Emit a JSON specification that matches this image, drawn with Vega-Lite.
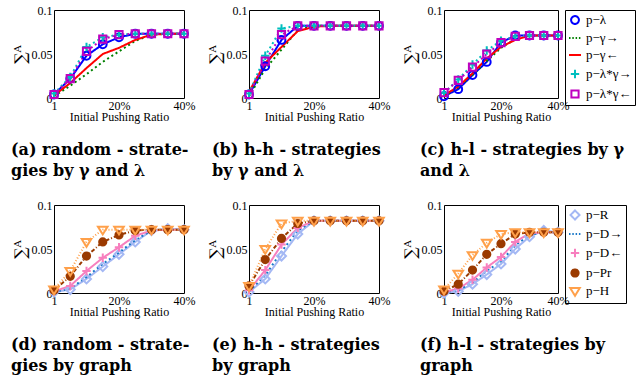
{
"$schema":"https://vega.github.io/schema/vega-lite/v6.json",
"padding":{"left":10,"top":3,"right":2,"bottom":2},
"config":{
 "view":{"stroke":"#000","strokeWidth":1},
 "axis":{"labelFont":"Liberation Serif","labelFontSize":12,"labelColor":"#000","titleFont":"Liberation Serif","titleFontSize":12,"titleFontWeight":"normal","titleColor":"#000","ticks":false,"domain":false,"grid":false,"labelPadding":2,"labelFlush":false},
 "axisX":{"titlePadding":0},
 "axisY":{"titleFontSize":16,"titlePadding":3,"titleFont":"DejaVu Serif"},
 "title":{"font":"DejaVu Serif","fontSize":16,"fontWeight":"bold","color":"#000","lineHeight":21}
},
"datasets":{
"top":[
{"p":"a","s":"p−λ","x":1,"y":0.004},{"p":"a","s":"p−λ","x":2,"y":0.022},{"p":"a","s":"p−λ","x":3,"y":0.048},{"p":"a","s":"p−λ","x":4,"y":0.061},{"p":"a","s":"p−λ","x":5,"y":0.069},{"p":"a","s":"p−λ","x":6,"y":0.073},{"p":"a","s":"p−λ","x":7,"y":0.073},{"p":"a","s":"p−λ","x":8,"y":0.073},{"p":"a","s":"p−λ","x":9,"y":0.073},
{"p":"a","s":"p−γ→","x":1,"y":0.002},{"p":"a","s":"p−γ→","x":2,"y":0.014},{"p":"a","s":"p−γ→","x":3,"y":0.027},{"p":"a","s":"p−γ→","x":4,"y":0.041},{"p":"a","s":"p−γ→","x":5,"y":0.053},{"p":"a","s":"p−γ→","x":6,"y":0.065},{"p":"a","s":"p−γ→","x":7,"y":0.072},{"p":"a","s":"p−γ→","x":8,"y":0.073},{"p":"a","s":"p−γ→","x":9,"y":0.073},
{"p":"a","s":"p−γ←","x":1,"y":0.003},{"p":"a","s":"p−γ←","x":2,"y":0.017},{"p":"a","s":"p−γ←","x":3,"y":0.034},{"p":"a","s":"p−γ←","x":4,"y":0.050},{"p":"a","s":"p−γ←","x":5,"y":0.057},{"p":"a","s":"p−γ←","x":6,"y":0.066},{"p":"a","s":"p−γ←","x":7,"y":0.072},{"p":"a","s":"p−γ←","x":8,"y":0.073},{"p":"a","s":"p−γ←","x":9,"y":0.073},
{"p":"a","s":"p−λ*γ→","x":1,"y":0.005},{"p":"a","s":"p−λ*γ→","x":2,"y":0.024},{"p":"a","s":"p−λ*γ→","x":3,"y":0.058},{"p":"a","s":"p−λ*γ→","x":4,"y":0.069},{"p":"a","s":"p−λ*γ→","x":5,"y":0.072},{"p":"a","s":"p−λ*γ→","x":6,"y":0.073},{"p":"a","s":"p−λ*γ→","x":7,"y":0.073},{"p":"a","s":"p−λ*γ→","x":8,"y":0.073},{"p":"a","s":"p−λ*γ→","x":9,"y":0.073},
{"p":"a","s":"p−λ*γ←","x":1,"y":0.004},{"p":"a","s":"p−λ*γ←","x":2,"y":0.022},{"p":"a","s":"p−λ*γ←","x":3,"y":0.053},{"p":"a","s":"p−λ*γ←","x":4,"y":0.067},{"p":"a","s":"p−λ*γ←","x":5,"y":0.072},{"p":"a","s":"p−λ*γ←","x":6,"y":0.073},{"p":"a","s":"p−λ*γ←","x":7,"y":0.073},{"p":"a","s":"p−λ*γ←","x":8,"y":0.073},{"p":"a","s":"p−λ*γ←","x":9,"y":0.073},
{"p":"b","s":"p−λ","x":1,"y":0.004},{"p":"b","s":"p−λ","x":2,"y":0.036},{"p":"b","s":"p−λ","x":3,"y":0.066},{"p":"b","s":"p−λ","x":4,"y":0.082},{"p":"b","s":"p−λ","x":5,"y":0.082},{"p":"b","s":"p−λ","x":6,"y":0.082},{"p":"b","s":"p−λ","x":7,"y":0.082},{"p":"b","s":"p−λ","x":8,"y":0.082},{"p":"b","s":"p−λ","x":9,"y":0.082},
{"p":"b","s":"p−γ→","x":1,"y":0.002},{"p":"b","s":"p−γ→","x":2,"y":0.033},{"p":"b","s":"p−γ→","x":3,"y":0.055},{"p":"b","s":"p−γ→","x":4,"y":0.077},{"p":"b","s":"p−γ→","x":5,"y":0.082},{"p":"b","s":"p−γ→","x":6,"y":0.082},{"p":"b","s":"p−γ→","x":7,"y":0.082},{"p":"b","s":"p−γ→","x":8,"y":0.082},{"p":"b","s":"p−γ→","x":9,"y":0.082},
{"p":"b","s":"p−γ←","x":1,"y":0.007},{"p":"b","s":"p−γ←","x":2,"y":0.040},{"p":"b","s":"p−γ←","x":3,"y":0.058},{"p":"b","s":"p−γ←","x":4,"y":0.076},{"p":"b","s":"p−γ←","x":5,"y":0.081},{"p":"b","s":"p−γ←","x":6,"y":0.082},{"p":"b","s":"p−γ←","x":7,"y":0.082},{"p":"b","s":"p−γ←","x":8,"y":0.082},{"p":"b","s":"p−γ←","x":9,"y":0.082},
{"p":"b","s":"p−λ*γ→","x":1,"y":0.005},{"p":"b","s":"p−λ*γ→","x":2,"y":0.048},{"p":"b","s":"p−λ*γ→","x":3,"y":0.079},{"p":"b","s":"p−λ*γ→","x":4,"y":0.082},{"p":"b","s":"p−λ*γ→","x":5,"y":0.082},{"p":"b","s":"p−λ*γ→","x":6,"y":0.082},{"p":"b","s":"p−λ*γ→","x":7,"y":0.082},{"p":"b","s":"p−λ*γ→","x":8,"y":0.082},{"p":"b","s":"p−λ*γ→","x":9,"y":0.082},
{"p":"b","s":"p−λ*γ←","x":1,"y":0.004},{"p":"b","s":"p−λ*γ←","x":2,"y":0.042},{"p":"b","s":"p−λ*γ←","x":3,"y":0.072},{"p":"b","s":"p−λ*γ←","x":4,"y":0.082},{"p":"b","s":"p−λ*γ←","x":5,"y":0.082},{"p":"b","s":"p−λ*γ←","x":6,"y":0.082},{"p":"b","s":"p−λ*γ←","x":7,"y":0.082},{"p":"b","s":"p−λ*γ←","x":8,"y":0.082},{"p":"b","s":"p−λ*γ←","x":9,"y":0.082},
{"p":"c","s":"p−λ","x":1,"y":0.002},{"p":"c","s":"p−λ","x":2,"y":0.010},{"p":"c","s":"p−λ","x":3,"y":0.026},{"p":"c","s":"p−λ","x":4,"y":0.041},{"p":"c","s":"p−λ","x":5,"y":0.063},{"p":"c","s":"p−λ","x":6,"y":0.071},{"p":"c","s":"p−λ","x":7,"y":0.071},{"p":"c","s":"p−λ","x":8,"y":0.071},{"p":"c","s":"p−λ","x":9,"y":0.071},
{"p":"c","s":"p−γ→","x":1,"y":0.002},{"p":"c","s":"p−γ→","x":2,"y":0.012},{"p":"c","s":"p−γ→","x":3,"y":0.026},{"p":"c","s":"p−γ→","x":4,"y":0.042},{"p":"c","s":"p−γ→","x":5,"y":0.057},{"p":"c","s":"p−γ→","x":6,"y":0.067},{"p":"c","s":"p−γ→","x":7,"y":0.071},{"p":"c","s":"p−γ→","x":8,"y":0.071},{"p":"c","s":"p−γ→","x":9,"y":0.071},
{"p":"c","s":"p−γ←","x":1,"y":0.003},{"p":"c","s":"p−γ←","x":2,"y":0.013},{"p":"c","s":"p−γ←","x":3,"y":0.028},{"p":"c","s":"p−γ←","x":4,"y":0.045},{"p":"c","s":"p−γ←","x":5,"y":0.058},{"p":"c","s":"p−γ←","x":6,"y":0.066},{"p":"c","s":"p−γ←","x":7,"y":0.071},{"p":"c","s":"p−γ←","x":8,"y":0.071},{"p":"c","s":"p−γ←","x":9,"y":0.071},
{"p":"c","s":"p−λ*γ→","x":1,"y":0.006},{"p":"c","s":"p−λ*γ→","x":2,"y":0.021},{"p":"c","s":"p−λ*γ→","x":3,"y":0.038},{"p":"c","s":"p−λ*γ→","x":4,"y":0.054},{"p":"c","s":"p−λ*γ→","x":5,"y":0.065},{"p":"c","s":"p−λ*γ→","x":6,"y":0.070},{"p":"c","s":"p−λ*γ→","x":7,"y":0.071},{"p":"c","s":"p−λ*γ→","x":8,"y":0.071},{"p":"c","s":"p−λ*γ→","x":9,"y":0.071},
{"p":"c","s":"p−λ*γ←","x":1,"y":0.006},{"p":"c","s":"p−λ*γ←","x":2,"y":0.020},{"p":"c","s":"p−λ*γ←","x":3,"y":0.035},{"p":"c","s":"p−λ*γ←","x":4,"y":0.050},{"p":"c","s":"p−λ*γ←","x":5,"y":0.063},{"p":"c","s":"p−λ*γ←","x":6,"y":0.070},{"p":"c","s":"p−λ*γ←","x":7,"y":0.071},{"p":"c","s":"p−λ*γ←","x":8,"y":0.071},{"p":"c","s":"p−λ*γ←","x":9,"y":0.071}
],
"bottom":[
{"p":"d","s":"p−R","x":1,"y":0.001},{"p":"d","s":"p−R","x":2,"y":0.004},{"p":"d","s":"p−R","x":3,"y":0.016},{"p":"d","s":"p−R","x":4,"y":0.030},{"p":"d","s":"p−R","x":5,"y":0.044},{"p":"d","s":"p−R","x":6,"y":0.058},{"p":"d","s":"p−R","x":7,"y":0.071},{"p":"d","s":"p−R","x":8,"y":0.073},{"p":"d","s":"p−R","x":9,"y":0.072},
{"p":"d","s":"p−D→","x":1,"y":0.001},{"p":"d","s":"p−D→","x":2,"y":0.005},{"p":"d","s":"p−D→","x":3,"y":0.018},{"p":"d","s":"p−D→","x":4,"y":0.033},{"p":"d","s":"p−D→","x":5,"y":0.046},{"p":"d","s":"p−D→","x":6,"y":0.060},{"p":"d","s":"p−D→","x":7,"y":0.071},{"p":"d","s":"p−D→","x":8,"y":0.072},{"p":"d","s":"p−D→","x":9,"y":0.072},
{"p":"d","s":"p−D←","x":1,"y":0.002},{"p":"d","s":"p−D←","x":2,"y":0.008},{"p":"d","s":"p−D←","x":3,"y":0.025},{"p":"d","s":"p−D←","x":4,"y":0.040},{"p":"d","s":"p−D←","x":5,"y":0.052},{"p":"d","s":"p−D←","x":6,"y":0.065},{"p":"d","s":"p−D←","x":7,"y":0.071},{"p":"d","s":"p−D←","x":8,"y":0.072},{"p":"d","s":"p−D←","x":9,"y":0.072},
{"p":"d","s":"p−Pr","x":1,"y":0.003},{"p":"d","s":"p−Pr","x":2,"y":0.019},{"p":"d","s":"p−Pr","x":3,"y":0.042},{"p":"d","s":"p−Pr","x":4,"y":0.058},{"p":"d","s":"p−Pr","x":5,"y":0.066},{"p":"d","s":"p−Pr","x":6,"y":0.071},{"p":"d","s":"p−Pr","x":7,"y":0.072},{"p":"d","s":"p−Pr","x":8,"y":0.072},{"p":"d","s":"p−Pr","x":9,"y":0.072},
{"p":"d","s":"p−H","x":1,"y":0.004},{"p":"d","s":"p−H","x":2,"y":0.025},{"p":"d","s":"p−H","x":3,"y":0.058},{"p":"d","s":"p−H","x":4,"y":0.072},{"p":"d","s":"p−H","x":5,"y":0.072},{"p":"d","s":"p−H","x":6,"y":0.072},{"p":"d","s":"p−H","x":7,"y":0.072},{"p":"d","s":"p−H","x":8,"y":0.072},{"p":"d","s":"p−H","x":9,"y":0.072},
{"p":"e","s":"p−R","x":1,"y":0.001},{"p":"e","s":"p−R","x":2,"y":0.016},{"p":"e","s":"p−R","x":3,"y":0.042},{"p":"e","s":"p−R","x":4,"y":0.067},{"p":"e","s":"p−R","x":5,"y":0.082},{"p":"e","s":"p−R","x":6,"y":0.082},{"p":"e","s":"p−R","x":7,"y":0.082},{"p":"e","s":"p−R","x":8,"y":0.082},{"p":"e","s":"p−R","x":9,"y":0.082},
{"p":"e","s":"p−D→","x":1,"y":0.002},{"p":"e","s":"p−D→","x":2,"y":0.020},{"p":"e","s":"p−D→","x":3,"y":0.047},{"p":"e","s":"p−D→","x":4,"y":0.071},{"p":"e","s":"p−D→","x":5,"y":0.082},{"p":"e","s":"p−D→","x":6,"y":0.082},{"p":"e","s":"p−D→","x":7,"y":0.082},{"p":"e","s":"p−D→","x":8,"y":0.082},{"p":"e","s":"p−D→","x":9,"y":0.082},
{"p":"e","s":"p−D←","x":1,"y":0.003},{"p":"e","s":"p−D←","x":2,"y":0.026},{"p":"e","s":"p−D←","x":3,"y":0.055},{"p":"e","s":"p−D←","x":4,"y":0.074},{"p":"e","s":"p−D←","x":5,"y":0.082},{"p":"e","s":"p−D←","x":6,"y":0.082},{"p":"e","s":"p−D←","x":7,"y":0.082},{"p":"e","s":"p−D←","x":8,"y":0.082},{"p":"e","s":"p−D←","x":9,"y":0.082},
{"p":"e","s":"p−Pr","x":1,"y":0.008},{"p":"e","s":"p−Pr","x":2,"y":0.038},{"p":"e","s":"p−Pr","x":3,"y":0.062},{"p":"e","s":"p−Pr","x":4,"y":0.079},{"p":"e","s":"p−Pr","x":5,"y":0.082},{"p":"e","s":"p−Pr","x":6,"y":0.082},{"p":"e","s":"p−Pr","x":7,"y":0.082},{"p":"e","s":"p−Pr","x":8,"y":0.082},{"p":"e","s":"p−Pr","x":9,"y":0.082},
{"p":"e","s":"p−H","x":1,"y":0.008},{"p":"e","s":"p−H","x":2,"y":0.050},{"p":"e","s":"p−H","x":3,"y":0.079},{"p":"e","s":"p−H","x":4,"y":0.082},{"p":"e","s":"p−H","x":5,"y":0.082},{"p":"e","s":"p−H","x":6,"y":0.082},{"p":"e","s":"p−H","x":7,"y":0.082},{"p":"e","s":"p−H","x":8,"y":0.082},{"p":"e","s":"p−H","x":9,"y":0.082},
{"p":"f","s":"p−R","x":1,"y":0.000},{"p":"f","s":"p−R","x":2,"y":0.002},{"p":"f","s":"p−R","x":3,"y":0.010},{"p":"f","s":"p−R","x":4,"y":0.021},{"p":"f","s":"p−R","x":5,"y":0.033},{"p":"f","s":"p−R","x":6,"y":0.050},{"p":"f","s":"p−R","x":7,"y":0.064},{"p":"f","s":"p−R","x":8,"y":0.071},{"p":"f","s":"p−R","x":9,"y":0.069},
{"p":"f","s":"p−D→","x":1,"y":0.001},{"p":"f","s":"p−D→","x":2,"y":0.003},{"p":"f","s":"p−D→","x":3,"y":0.012},{"p":"f","s":"p−D→","x":4,"y":0.025},{"p":"f","s":"p−D→","x":5,"y":0.036},{"p":"f","s":"p−D→","x":6,"y":0.054},{"p":"f","s":"p−D→","x":7,"y":0.066},{"p":"f","s":"p−D→","x":8,"y":0.069},{"p":"f","s":"p−D→","x":9,"y":0.069},
{"p":"f","s":"p−D←","x":1,"y":0.001},{"p":"f","s":"p−D←","x":2,"y":0.005},{"p":"f","s":"p−D←","x":3,"y":0.015},{"p":"f","s":"p−D←","x":4,"y":0.029},{"p":"f","s":"p−D←","x":5,"y":0.041},{"p":"f","s":"p−D←","x":6,"y":0.058},{"p":"f","s":"p−D←","x":7,"y":0.068},{"p":"f","s":"p−D←","x":8,"y":0.069},{"p":"f","s":"p−D←","x":9,"y":0.069},
{"p":"f","s":"p−Pr","x":1,"y":0.002},{"p":"f","s":"p−Pr","x":2,"y":0.010},{"p":"f","s":"p−Pr","x":3,"y":0.026},{"p":"f","s":"p−Pr","x":4,"y":0.044},{"p":"f","s":"p−Pr","x":5,"y":0.056},{"p":"f","s":"p−Pr","x":6,"y":0.067},{"p":"f","s":"p−Pr","x":7,"y":0.069},{"p":"f","s":"p−Pr","x":8,"y":0.069},{"p":"f","s":"p−Pr","x":9,"y":0.069},
{"p":"f","s":"p−H","x":1,"y":0.004},{"p":"f","s":"p−H","x":2,"y":0.022},{"p":"f","s":"p−H","x":3,"y":0.043},{"p":"f","s":"p−H","x":4,"y":0.057},{"p":"f","s":"p−H","x":5,"y":0.067},{"p":"f","s":"p−H","x":6,"y":0.069},{"p":"f","s":"p−H","x":7,"y":0.069},{"p":"f","s":"p−H","x":8,"y":0.069},{"p":"f","s":"p−H","x":9,"y":0.069}
]
},
"bounds":"flush",
"spacing":195,
"resolve":{"scale":{"color":"independent","shape":"independent","fill":"independent"},"legend":{"color":"independent","shape":"independent","fill":"independent"}},
"vconcat":[
{"hconcat":[
 {"width":130,"height":88,"data":{"name":"top"},"transform":[{"filter":"datum.p=='a'"}],
  "title":{"text":["(a) random - strate-","gies by γ and λ"],"orient":"bottom","anchor":"start","frame":"group","dx":-43,"offset":20},
  "encoding":{
   "x":{"field":"x","type":"quantitative","scale":{"domain":[1,9],"nice":false,"zero":false},"axis":{"values":[1,5,9],"labelExpr":"datum.value==1?'1':datum.value==5?'20%':'40%'","title":"Initial Pushing Ratio"}},
   "y":{"field":"y","type":"quantitative","scale":{"domain":[0,0.1],"nice":false},"axis":{"values":[0,0.05,0.1],"format":"~g","title":"∑ᴬ"}},
   "color":{"field":"s","type":"nominal","title":null,"scale":{"domain":["p−λ","p−γ→","p−γ←","p−λ*γ→","p−λ*γ←"],"range":["#0000ff","#008000","#ff0000","#00bfbf","#bf00bf"]},"legend":null}},
  "layer":[
   {"mark":{"type":"line","strokeWidth":2},"encoding":{"strokeDash":{"condition":{"test":"datum.s=='p−γ→'||datum.s=='p−λ*γ→'||datum.s=='p−λ*γ←'","value":[2,3]},"value":[1,0]}}},
   {"transform":[{"filter":"datum.s!='p−γ→'&&datum.s!='p−γ←'"}],"mark":{"type":"point","filled":false,"size":144,"strokeWidth":2,"opacity":1},
    "encoding":{"shape":{"field":"s","type":"nominal","scale":{"domain":["p−λ","p−γ→","p−γ←","p−λ*γ→","p−λ*γ←"],"range":["M0.65,0A0.65,0.65,0,1,1,-0.65,0A0.65,0.65,0,1,1,0.65,0Z","M-1,0H-0.75M-0.45,0H-0.2M0.1,0H0.35M0.65,0H0.9","M-1,0H1","M-0.7,0H0.7M0,-0.7V0.7","M-0.6,-0.6H0.6V0.6H-0.6Z"]},"legend":null}}}
  ]},
 {"width":130,"height":88,"data":{"name":"top"},"transform":[{"filter":"datum.p=='b'"}],
  "title":{"text":["(b) h-h - strategies","by γ and λ"],"orient":"bottom","anchor":"start","frame":"group","dx":-37,"offset":20},
  "encoding":{
   "x":{"field":"x","type":"quantitative","scale":{"domain":[1,9],"nice":false,"zero":false},"axis":{"values":[1,5,9],"labelExpr":"datum.value==1?'1':datum.value==5?'20%':'40%'","title":"Initial Pushing Ratio"}},
   "y":{"field":"y","type":"quantitative","scale":{"domain":[0,0.1],"nice":false},"axis":{"values":[0,0.05,0.1],"format":"~g","title":"∑ᴬ"}},
   "color":{"field":"s","type":"nominal","title":null,"scale":{"domain":["p−λ","p−γ→","p−γ←","p−λ*γ→","p−λ*γ←"],"range":["#0000ff","#008000","#ff0000","#00bfbf","#bf00bf"]},"legend":null}},
  "layer":[
   {"mark":{"type":"line","strokeWidth":2},"encoding":{"strokeDash":{"condition":{"test":"datum.s=='p−γ→'||datum.s=='p−λ*γ→'||datum.s=='p−λ*γ←'","value":[2,3]},"value":[1,0]}}},
   {"transform":[{"filter":"datum.s!='p−γ→'&&datum.s!='p−γ←'"}],"mark":{"type":"point","filled":false,"size":144,"strokeWidth":2,"opacity":1},
    "encoding":{"shape":{"field":"s","type":"nominal","scale":{"domain":["p−λ","p−γ→","p−γ←","p−λ*γ→","p−λ*γ←"],"range":["M0.65,0A0.65,0.65,0,1,1,-0.65,0A0.65,0.65,0,1,1,0.65,0Z","M-1,0H-0.75M-0.45,0H-0.2M0.1,0H0.35M0.65,0H0.9","M-1,0H1","M-0.7,0H0.7M0,-0.7V0.7","M-0.6,-0.6H0.6V0.6H-0.6Z"]},"legend":null}}}
  ]},
 {"width":114,"height":88,"data":{"name":"top"},"transform":[{"filter":"datum.p=='c'"}],
  "title":{"text":["(c) h-l - strategies by γ","and λ"],"orient":"bottom","anchor":"start","frame":"group","dx":-24,"offset":20},
  "encoding":{
   "x":{"field":"x","type":"quantitative","scale":{"domain":[1,9],"nice":false,"zero":false},"axis":{"values":[1,5,9],"labelExpr":"datum.value==1?'1':datum.value==5?'20%':'40%'","title":"Initial Pushing Ratio"}},
   "y":{"field":"y","type":"quantitative","scale":{"domain":[0,0.1],"nice":false},"axis":{"values":[0,0.05,0.1],"format":"~g","title":"∑ᴬ"}},
   "color":{"field":"s","type":"nominal","title":null,"scale":{"domain":["p−λ","p−γ→","p−γ←","p−λ*γ→","p−λ*γ←"],"range":["#0000ff","#008000","#ff0000","#00bfbf","#bf00bf"]},"legend":{"orient":"right","offset":3,"padding":3,"rowPadding":3,"labelFont":"Liberation Serif","labelFontSize":13,"labelColor":"#000","labelOffset":4,"strokeColor":"#000","symbolSize":144,"symbolStrokeWidth":2,"symbolDash":[1,0]}}},
  "layer":[
   {"mark":{"type":"line","strokeWidth":2},"encoding":{"strokeDash":{"condition":{"test":"datum.s=='p−γ→'||datum.s=='p−λ*γ→'||datum.s=='p−λ*γ←'","value":[2,3]},"value":[1,0]}}},
   {"transform":[{"filter":"datum.s!='p−γ→'&&datum.s!='p−γ←'"}],"mark":{"type":"point","filled":false,"size":144,"strokeWidth":2,"opacity":1},
    "encoding":{"shape":{"field":"s","type":"nominal","title":null,"scale":{"domain":["p−λ","p−γ→","p−γ←","p−λ*γ→","p−λ*γ←"],"range":["M0.65,0A0.65,0.65,0,1,1,-0.65,0A0.65,0.65,0,1,1,0.65,0Z","M-1,0H-0.75M-0.45,0H-0.2M0.1,0H0.35M0.65,0H0.9","M-1,0H1","M-0.7,0H0.7M0,-0.7V0.7","M-0.6,-0.6H0.6V0.6H-0.6Z"]}}}}
  ]}
 ],
 "spacing":65,"bounds":"flush",
 "resolve":{"scale":{"color":"independent","shape":"independent","fill":"independent"},"legend":{"color":"independent","shape":"independent","fill":"independent"}}},
{"hconcat":[
 {"width":130,"height":88,"data":{"name":"bottom"},"transform":[{"filter":"datum.p=='d'"}],
  "title":{"text":["(d) random - strate-","gies by graph"],"orient":"bottom","anchor":"start","frame":"group","dx":-43,"offset":20},
  "encoding":{
   "x":{"field":"x","type":"quantitative","scale":{"domain":[1,9],"nice":false,"zero":false},"axis":{"values":[1,5,9],"labelExpr":"datum.value==1?'1':datum.value==5?'20%':'40%'","title":"Initial Pushing Ratio"}},
   "y":{"field":"y","type":"quantitative","scale":{"domain":[0,0.1],"nice":false},"axis":{"values":[0,0.05,0.1],"format":"~g","title":"∑ᴬ"}},
   "color":{"field":"s","type":"nominal","title":null,"scale":{"domain":["p−R","p−D→","p−D←","p−Pr","p−H"],"range":["#a4b8f4","#1a78c8","#f77fbe","#9b3a00","#ffa04a"]},"legend":null}},
  "layer":[
   {"mark":{"type":"line","strokeWidth":2},"encoding":{"strokeDash":{"condition":[{"test":"datum.s=='p−D→'","value":[2,3]},{"test":"datum.s=='p−Pr'","value":[4,2,1,2]},{"test":"datum.s=='p−H'","value":[1,2]}],"value":[1,0]},"strokeWidth":{"condition":{"test":"datum.s=='p−H'","value":1},"value":2}}},
   {"transform":[{"filter":"datum.s!='p−D→'"}],"mark":{"type":"point","filled":false,"size":144,"strokeWidth":2,"opacity":1},
    "encoding":{"shape":{"field":"s","type":"nominal","scale":{"domain":["p−R","p−D→","p−D←","p−Pr","p−H"],"range":["M0,-0.75L0.75,0L0,0.75L-0.75,0Z","M-1,0H-0.75M-0.45,0H-0.2M0.1,0H0.35M0.65,0H0.9","M-0.7,0H0.7M0,-0.7V0.7","M0.6,0A0.6,0.6,0,1,1,-0.6,0A0.6,0.6,0,1,1,0.6,0Z","M-0.8,-0.5H0.8L0,0.8Z"]},"legend":null},
     "fill":{"field":"s","type":"nominal","scale":{"domain":["p−R","p−D→","p−D←","p−Pr","p−H"],"range":["transparent","transparent","transparent","#9b3a00","transparent"]},"legend":null}}}
  ]},
 {"width":130,"height":88,"data":{"name":"bottom"},"transform":[{"filter":"datum.p=='e'"}],
  "title":{"text":["(e) h-h - strategies","by graph"],"orient":"bottom","anchor":"start","frame":"group","dx":-37,"offset":20},
  "encoding":{
   "x":{"field":"x","type":"quantitative","scale":{"domain":[1,9],"nice":false,"zero":false},"axis":{"values":[1,5,9],"labelExpr":"datum.value==1?'1':datum.value==5?'20%':'40%'","title":"Initial Pushing Ratio"}},
   "y":{"field":"y","type":"quantitative","scale":{"domain":[0,0.1],"nice":false},"axis":{"values":[0,0.05,0.1],"format":"~g","title":"∑ᴬ"}},
   "color":{"field":"s","type":"nominal","title":null,"scale":{"domain":["p−R","p−D→","p−D←","p−Pr","p−H"],"range":["#a4b8f4","#1a78c8","#f77fbe","#9b3a00","#ffa04a"]},"legend":null}},
  "layer":[
   {"mark":{"type":"line","strokeWidth":2},"encoding":{"strokeDash":{"condition":[{"test":"datum.s=='p−D→'","value":[2,3]},{"test":"datum.s=='p−Pr'","value":[4,2,1,2]},{"test":"datum.s=='p−H'","value":[1,2]}],"value":[1,0]},"strokeWidth":{"condition":{"test":"datum.s=='p−H'","value":1},"value":2}}},
   {"transform":[{"filter":"datum.s!='p−D→'"}],"mark":{"type":"point","filled":false,"size":144,"strokeWidth":2,"opacity":1},
    "encoding":{"shape":{"field":"s","type":"nominal","scale":{"domain":["p−R","p−D→","p−D←","p−Pr","p−H"],"range":["M0,-0.75L0.75,0L0,0.75L-0.75,0Z","M-1,0H-0.75M-0.45,0H-0.2M0.1,0H0.35M0.65,0H0.9","M-0.7,0H0.7M0,-0.7V0.7","M0.6,0A0.6,0.6,0,1,1,-0.6,0A0.6,0.6,0,1,1,0.6,0Z","M-0.8,-0.5H0.8L0,0.8Z"]},"legend":null},
     "fill":{"field":"s","type":"nominal","scale":{"domain":["p−R","p−D→","p−D←","p−Pr","p−H"],"range":["transparent","transparent","transparent","#9b3a00","transparent"]},"legend":null}}}
  ]},
 {"width":114,"height":88,"data":{"name":"bottom"},"transform":[{"filter":"datum.p=='f'"}],
  "title":{"text":["(f) h-l - strategies by","graph"],"orient":"bottom","anchor":"start","frame":"group","dx":-24,"offset":20},
  "encoding":{
   "x":{"field":"x","type":"quantitative","scale":{"domain":[1,9],"nice":false,"zero":false},"axis":{"values":[1,5,9],"labelExpr":"datum.value==1?'1':datum.value==5?'20%':'40%'","title":"Initial Pushing Ratio"}},
   "y":{"field":"y","type":"quantitative","scale":{"domain":[0,0.1],"nice":false},"axis":{"values":[0,0.05,0.1],"format":"~g","title":"∑ᴬ"}},
   "color":{"field":"s","type":"nominal","title":null,"scale":{"domain":["p−R","p−D→","p−D←","p−Pr","p−H"],"range":["#a4b8f4","#1a78c8","#f77fbe","#9b3a00","#ffa04a"]},"legend":{"orient":"right","offset":3,"padding":3,"rowPadding":3,"labelFont":"Liberation Serif","labelFontSize":13,"labelColor":"#000","labelOffset":4,"strokeColor":"#000","symbolSize":144,"symbolStrokeWidth":2,"symbolDash":[1,0]}}},
  "layer":[
   {"mark":{"type":"line","strokeWidth":2},"encoding":{"strokeDash":{"condition":[{"test":"datum.s=='p−D→'","value":[2,3]},{"test":"datum.s=='p−Pr'","value":[4,2,1,2]},{"test":"datum.s=='p−H'","value":[1,2]}],"value":[1,0]},"strokeWidth":{"condition":{"test":"datum.s=='p−H'","value":1},"value":2}}},
   {"transform":[{"filter":"datum.s!='p−D→'"}],"mark":{"type":"point","filled":false,"size":144,"strokeWidth":2,"opacity":1},
    "encoding":{"shape":{"field":"s","type":"nominal","title":null,"scale":{"domain":["p−R","p−D→","p−D←","p−Pr","p−H"],"range":["M0,-0.75L0.75,0L0,0.75L-0.75,0Z","M-1,0H-0.75M-0.45,0H-0.2M0.1,0H0.35M0.65,0H0.9","M-0.7,0H0.7M0,-0.7V0.7","M0.6,0A0.6,0.6,0,1,1,-0.6,0A0.6,0.6,0,1,1,0.6,0Z","M-0.8,-0.5H0.8L0,0.8Z"]}},
     "fill":{"field":"s","type":"nominal","title":null,"scale":{"domain":["p−R","p−D→","p−D←","p−Pr","p−H"],"range":["transparent","transparent","transparent","#9b3a00","transparent"]}}}}
  ]}
 ],
 "spacing":65,"bounds":"flush",
 "resolve":{"scale":{"color":"independent","shape":"independent","fill":"independent"},"legend":{"color":"independent","shape":"independent","fill":"independent"}}}
]
}
